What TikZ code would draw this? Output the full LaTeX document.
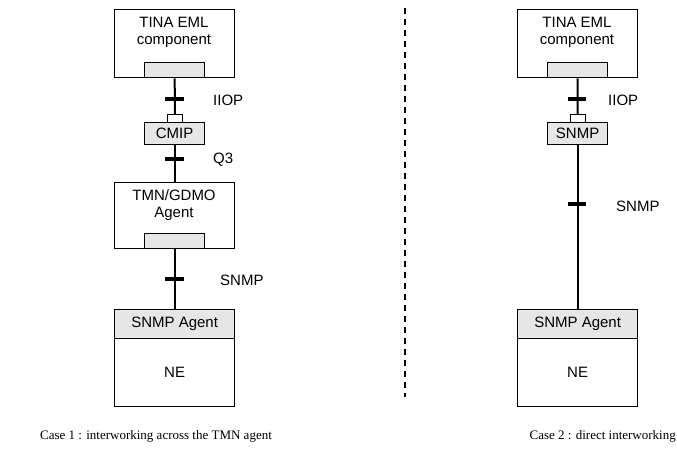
\documentclass[tikz,border=0pt]{standalone}
\usepackage{fontspec}
\setmainfont{Liberation Serif}
\newfontfamily\arialfont{Liberation Sans}
\definecolor{boxgray}{RGB}{230,230,230}
\begin{document}
\begin{tikzpicture}[x=1pt,y=-1pt,
  outerbox/.style={draw, line width=1.3pt, minimum width=120pt, inner sep=0pt, anchor=north west},
  innerbox/.style={draw, fill=boxgray, line width=1.3pt, minimum width=60pt, minimum height=15pt, inner sep=0pt, anchor=north west},
  tabbox/.style={draw, fill=white, line width=1pt, minimum width=15pt, minimum height=8pt, inner sep=0pt, anchor=north west},
  protbox/.style={draw, fill=boxgray, line width=1.3pt, minimum width=60pt, minimum height=22pt, inner sep=0pt, anchor=north west, font=\arialfont\fontsize{15}{17}\selectfont},
  lbl/.style={font=\arialfont\fontsize{15}{17}\selectfont, align=center, inner sep=0pt},
  plbl/.style={font=\arialfont\fontsize{15}{17}\selectfont, anchor=west, inner sep=0pt},
  conn/.style={line width=2pt},
  tickmark/.style={line width=4pt},
  caption/.style={font=\fontsize{13}{15}\selectfont, inner sep=0pt}]
\useasboundingbox (0,0) rectangle (677,461);

% ---------- Case 1 ----------
\node[outerbox, minimum height=68pt] (tinaL) at (114,9) {};
\node[lbl] (tinaLt) at (174,32) {TINA EML\\component};
\node[innerbox] (tinaLin) at (144,62) {};
\node[tabbox] (tabL) at (167,114) {};
\node[protbox] (cmip) at (144,122) {CMIP};
\node[outerbox, minimum height=66pt] (tmn) at (114,182) {};
\node[lbl] (tmnt) at (174,205) {TMN/GDMO\\Agent};
\node[innerbox] (tmnin) at (144,233) {};
\node[outerbox, fill=boxgray, minimum height=29pt, font=\arialfont\fontsize{15}{17}\selectfont] (agentL) at (114,309) {SNMP Agent};
\node[outerbox, minimum height=68pt, font=\arialfont\fontsize{15}{17}\selectfont] (neL) at (114,338) {NE};

\draw[conn] (tinaLin.south) -- (tabL.north);
\draw[conn] (cmip.south) -- (tmn.north);
\draw[conn] (tmnin.south) -- (agentL.north);

\coordinate (tk1) at (174.5,99);
\coordinate (tk2) at (174.5,159);
\coordinate (tk3) at (174.5,279);
\foreach \t in {tk1,tk2,tk3}
  \draw[tickmark] ([xshift=-9.5pt]\t) -- ([xshift=9.5pt]\t);

\node[plbl] (iiopL) at (213,100) {IIOP};
\node[plbl] (q3) at (213,160) {Q3};
\node[plbl] (snmpL) at (220,280) {SNMP};

% ---------- divider ----------
\coordinate (dv1) at (405,8);
\coordinate (dv2) at (405,397);
\draw[line width=1.3pt, dash pattern=on 6pt off 5pt] (dv1) -- (dv2);

% ---------- Case 2 ----------
\node[outerbox, minimum height=68pt] (tinaR) at (517,9) {};
\node[lbl] (tinaRt) at (577,32) {TINA EML\\component};
\node[innerbox] (tinaRin) at (547,62) {};
\node[tabbox] (tabR) at (569.5,114) {};
\node[protbox] (snmpbox) at (547,122) {SNMP};
\node[outerbox, fill=boxgray, minimum height=29pt, font=\arialfont\fontsize{15}{17}\selectfont] (agentR) at (517,309) {SNMP Agent};
\node[outerbox, minimum height=68pt, font=\arialfont\fontsize{15}{17}\selectfont] (neR) at (517,338) {NE};

\draw[conn] (tinaRin.south) -- (tabR.north);
\draw[conn] (snmpbox.south) -- (agentR.north);

\coordinate (tk4) at (577,99);
\coordinate (tk5) at (577,204);
\foreach \t in {tk4,tk5}
  \draw[tickmark] ([xshift=-9pt]\t) -- ([xshift=9pt]\t);

\node[plbl] (iiopR) at (608,100) {IIOP};
\node[plbl] (snmpR) at (616,206) {SNMP};

% ---------- captions ----------
\node[caption] (cap1) at (156,436) {Case 1 : interworking across the TMN agent};
\node[caption, anchor=east] (cap2) at (676,436) {Case 2 : direct interworking};
\end{tikzpicture}
\end{document}
